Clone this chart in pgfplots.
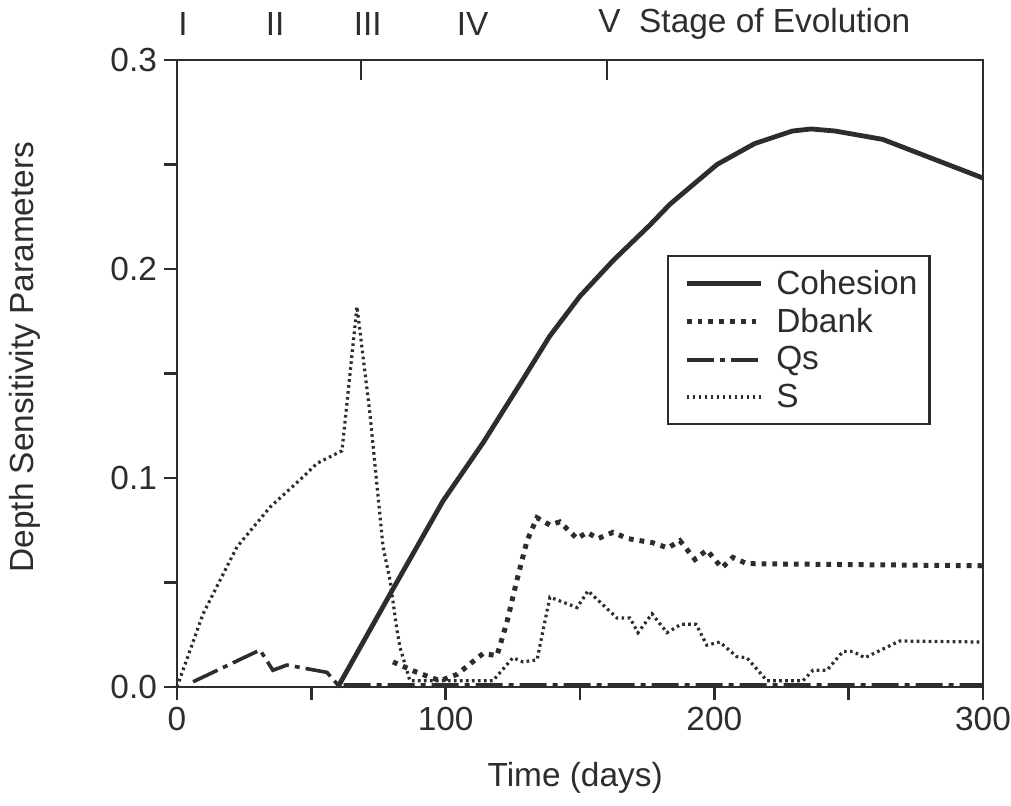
\documentclass[border=0pt]{standalone}
\usepackage{fontspec}
\setmainfont{Liberation Sans}
\usepackage{pgfplots}
\pgfplotsset{compat=1.18}
\definecolor{ink}{RGB}{45,45,45}
\newcommand{\figfont}{\fontsize{16.7}{20}\selectfont}

\begin{document}
\begin{tikzpicture}
\begin{axis}[
    scale only axis,
    width=403pt, height=313.5pt,
    xmin=0, xmax=300, ymin=0, ymax=0.3,
    clip=false,
    axis line style={ink, line width=1.3pt},
    xtick={0,100,200,300}, ytick={0,0.1,0.2,0.3},
    minor x tick num=1, minor y tick num=1,
    xtick pos=bottom, ytick pos=left,
    tick align=outside,
    major tick length=6.5pt, minor tick length=6.5pt,
    tick style={ink, line width=1.2pt},
    /pgf/number format/assume math mode=true,
    tick label style={font=\figfont, text=ink},
    yticklabel style={/pgf/number format/.cd, fixed, fixed zerofill, precision=1},
    xlabel={Time (days)},
    ylabel={Depth Sensitivity Parameters},
    label style={font=\figfont, text=ink},
    xlabel style={at={(rel axis cs:0.494,0)}, anchor=center, yshift=-45.5pt},
    ylabel style={at={(rel axis cs:-0.1886,0.526)}, anchor=center},
    legend cell align=left,
    legend style={at={(rel axis cs:0.608,0.689)}, anchor=north west,
        draw=ink, line width=1.2pt, font=\figfont, text=ink,
        inner xsep=4pt, inner ysep=5pt, row sep=1.5pt},
    legend image code/.code={\path (0pt,0pt); \draw[#1] (4pt,0pt) -- (41pt,0pt); \path (45.5pt,0pt);},
]

% Cohesion
\addplot[ink, line width=2.4pt] coordinates {
(59.9,0) (80,0.046) (99,0.089) (114,0.117) (127.7,0.145) (138.8,0.168)
(150,0.187) (162.3,0.204) (176,0.221) (183.5,0.231) (201,0.25)
(215,0.26) (229,0.266) (236,0.267) (245,0.266) (262.7,0.262) (300,0.2435)};
\addlegendentry{Cohesion}

% Dbank
\addplot[ink, line width=2.5pt, dash pattern=on 2.4pt off 3pt] coordinates {
(80.4,0.012) (89.3,0.007) (97.9,0.003) (104.2,0.006) (113.9,0.016)
(119.1,0.015) (122.8,0.031) (126.5,0.051) (130.3,0.070) (134,0.081)
(138.8,0.0775) (142.5,0.079) (148.9,0.071) (152.6,0.074) (156.7,0.071)
(162.3,0.074) (167.8,0.071) (177.1,0.069) (182.7,0.0665) (187.2,0.070)
(192.8,0.061) (197.2,0.0655) (202.8,0.057) (206.9,0.062) (212.1,0.059)
(300,0.058)};
\addlegendentry{Dbank}

% Qs
\addplot[ink, line width=1.8pt, dash pattern=on 13.5pt off 3pt on 2.5pt off 3pt] coordinates {
(6,0.0025) (30.9,0.0177) (35.7,0.008) (40.9,0.0105) (55.8,0.007)
(59.9,0.001) (300,0.001)};
\addlegendentry{Qs}

% S
\addplot[ink, line width=1.6pt, dash pattern=on 1.3pt off 1.7pt] coordinates {
(0,0) (9.7,0.035) (22.3,0.067) (34.6,0.086) (46.9,0.1005) (52.1,0.107)
(61.4,0.113) (67,0.182) (71.8,0.131) (76.7,0.067) (79.3,0.051)
(81.9,0.027) (83,0.019) (86.7,0.003) (89.3,0.003) (117.6,0.003)
(125,0.014) (128.8,0.012) (134,0.013) (138.8,0.043) (148.9,0.038)
(153,0.046) (163.8,0.033) (168.6,0.033) (171.6,0.026) (176.8,0.035)
(182.4,0.026) (187.6,0.030) (193.2,0.030) (197.2,0.020) (202,0.0215)
(208.4,0.0145) (212.1,0.014) (219.6,0.003) (233,0.003) (236.7,0.008)
(241.9,0.008) (247.9,0.017) (251.6,0.017) (256,0.014) (269,0.022)
(300,0.0215)};
\addlegendentry{S}

% stage of evolution markers along the top
\draw[ink, line width=1.2pt] (axis cs:68.5,0.3) -- ++(0,-10pt);
\draw[ink, line width=1.2pt] (axis cs:160,0.3) -- ++(0,-10pt);
\node[font=\figfont, text=ink] at ([yshift=18pt]axis cs:2.2,0.3) {I};
\node[font=\figfont, text=ink] at ([yshift=18pt]axis cs:36.5,0.3) {II};
\node[font=\figfont, text=ink] at ([yshift=18pt]axis cs:71,0.3) {III};
\node[font=\figfont, text=ink] at ([yshift=18pt]axis cs:110,0.3) {IV};
\node[font=\figfont, text=ink, anchor=west, inner xsep=0pt] at ([yshift=18pt]axis cs:156.7,0.3) {V\ \ Stage of Evolution};
\end{axis}
\pgfresetboundingbox
\path ([shift={(-88.5pt,-59.5pt)}]current axis.south west) rectangle ([shift={(14pt,30pt)}]current axis.north east);
\end{tikzpicture}
\end{document}
